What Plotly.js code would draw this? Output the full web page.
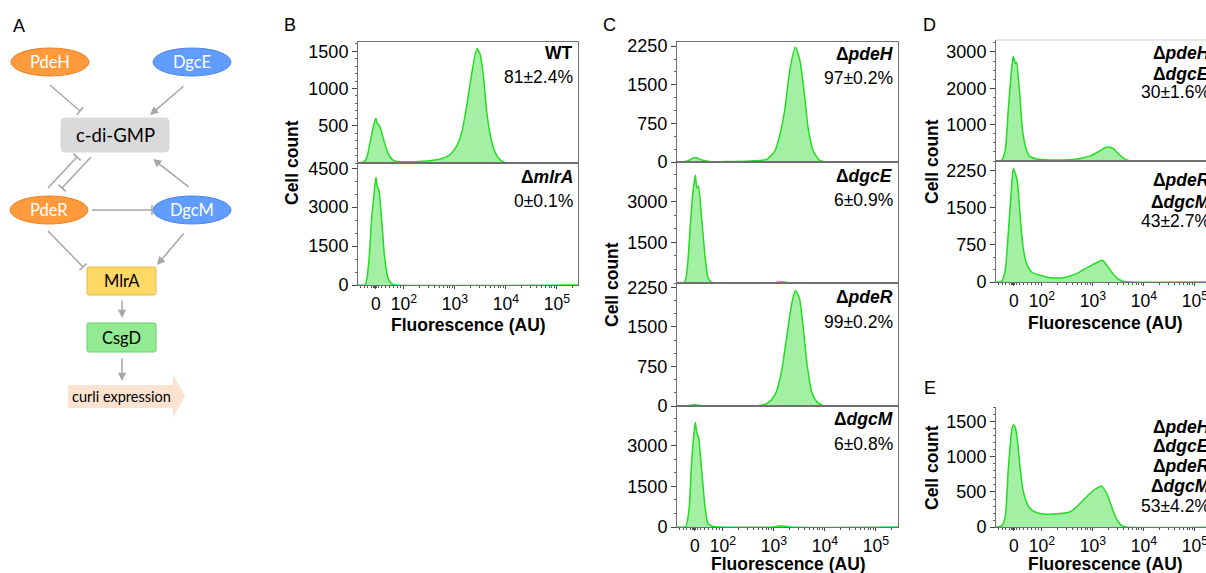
<!DOCTYPE html>
<html><head><meta charset="utf-8">
<script src="https://cdn.plot.ly/plotly-3.0.1.min.js"></script>
<style>html,body{margin:0;padding:0;background:#fff;}#chart{width:1206px;height:573px;}</style>
</head><body><div id="chart"></div>
<script>
// ---------- DATA (x = position on the biexponential fluorescence scale, in decades; counts = cells) ----------
const decadeTickPos = [1.45, 2, 3, 4, 5];
const decadeTickText = ['0', '10<sup>2</sup>', '10<sup>3</sup>', '10<sup>4</sup>', '10<sup>5</sup>'];

const wtPos   = [1.10,1.20,1.27,1.33,1.38,1.42,1.45,1.48,1.52,1.57,1.62,1.68,1.76,1.86,2.00,2.20,2.51,2.71,2.90,3.03,3.13,3.23,3.33,3.43,3.49,3.56,3.62,3.70,3.78,3.88,4.01,4.50,5.45];
const wtCount = [0,10,67,250,420,540,600,530,500,400,270,150,53,22,18,18,31,53,111,222,400,756,1200,1535,1470,1157,712,356,156,45,0,0,0];

const mlrAPos   = [1.10,1.24,1.31,1.37,1.41,1.45,1.48,1.51,1.56,1.62,1.69,1.76,1.85,5.45];
const mlrACount = [0,10,836,2636,3400,4150,3790,3660,2636,1093,257,40,0,0];

const pdeHPos   = [1.10,1.29,1.45,1.61,1.75,2.00,2.53,2.86,3.02,3.12,3.22,3.31,3.42,3.51,3.59,3.67,3.77,3.90,4.03,4.50,5.45];
const pdeHCount = [0,13,85,32,6,8,20,52,215,540,1060,1775,2230,1970,1385,670,215,32,0,0,0];

const dgcEPos   = [1.10,1.25,1.31,1.36,1.41,1.46,1.49,1.52,1.58,1.65,1.71,1.78,1.90,3.00,3.15,3.30,5.45];
const dgcECount = [0,25,740,2100,3330,3990,3520,3580,2470,988,185,25,0,0,50,0,0];

const pdeRPos   = [1.10,1.30,1.45,1.60,2.00,2.79,2.95,3.05,3.15,3.25,3.35,3.42,3.50,3.58,3.65,3.74,3.84,3.97,4.30,5.45];
const pdeRCount = [0,5,25,5,5,19,115,275,660,1300,1940,2185,2040,1430,790,275,83,6,0,0];

const dgcMPos   = [1.10,1.27,1.34,1.38,1.43,1.46,1.49,1.52,1.58,1.65,1.71,1.81,1.95,3.00,3.15,3.30,5.45];
const dgcMCount = [0,20,726,2180,3390,3850,3450,3330,2180,726,120,24,0,0,48,0,0];

const pdeHdgcEPos   = [1.10,1.21,1.28,1.34,1.41,1.44,1.48,1.50,1.56,1.62,1.69,1.76,1.90,2.16,2.55,2.75,2.95,3.10,3.22,3.31,3.40,3.50,3.60,3.70,3.85,5.45];
const pdeHdgcECount = [0,18,293,1394,2586,2880,2680,2720,1944,844,340,128,55,28,37,70,140,250,350,385,340,200,80,15,0,0];

const pdeRdgcMPos   = [1.10,1.21,1.28,1.34,1.41,1.44,1.48,1.52,1.57,1.63,1.70,1.80,1.96,2.16,2.42,2.68,2.81,2.97,3.10,3.19,3.27,3.37,3.46,3.59,3.75,5.45];
const pdeRdgcMCount = [0,14,237,980,1994,2300,2197,2028,1386,710,372,203,135,88,88,169,250,338,405,440,338,203,88,14,0,0];

const quadPos   = [1.10,1.21,1.28,1.34,1.41,1.44,1.48,1.52,1.57,1.63,1.71,1.80,1.96,2.16,2.35,2.55,2.68,2.81,2.94,3.07,3.17,3.27,3.37,3.46,3.56,3.66,5.45];
const quadCount = [0,15,144,814,1390,1460,1413,1245,862,527,335,240,192,182,192,215,287,383,479,551,584,479,287,120,24,0,0];

const strainLabels = [
  ['<b>WT</b>'],
  ['<b>Δ<i>mlrA</i></b>'],
  ['<b>Δ<i>pdeH</i></b>'],
  ['<b>Δ<i>dgcE</i></b>'],
  ['<b>Δ<i>pdeR</i></b>'],
  ['<b>Δ<i>dgcM</i></b>'],
  ['<b>Δ<i>pdeH</i></b>','<b>Δ<i>dgcE</i></b>'],
  ['<b>Δ<i>pdeR</i></b>','<b>Δ<i>dgcM</i></b>'],
  ['<b>Δ<i>pdeH</i></b>','<b>Δ<i>dgcE</i></b>','<b>Δ<i>pdeR</i></b>','<b>Δ<i>dgcM</i></b>']
];
const percentLabels = ['81±2.4%','0±0.1%','97±0.2%','6±0.9%','99±0.2%','6±0.8%','30±1.6%','43±2.7%','53±4.2%'];

const yTickSets = [[500,1000,1500],[0,1500,3000,4500],[0,750,1500,2250],[1500,3000],[0,750,1500,2250],[0,1500,3000],[1000,2000,3000],[0,750,1500,2250],[0,500,1000,1500]];

// ---------- LAYOUT ----------
const W = 1206, H = 573;
const X = p => p / W, Y = p => 1 - p / H;
const PXPERDEC = 51;
const TXT = 'Liberation Sans, Arial, sans-serif';
const LINE = '#22DD22', FILL = '#A3EFA3';
const YTICKSIZE = 18, XTICKSIZE = 17.5, LABSIZE = 17.5;

const series = [
  [wtPos, wtCount], [mlrAPos, mlrACount], [pdeHPos, pdeHCount], [dgcEPos, dgcECount],
  [pdeRPos, pdeRCount], [dgcMPos, dgcMCount], [pdeHdgcEPos, pdeHdgcECount],
  [pdeRdgcMPos, pdeRdgcMCount], [quadPos, quadCount]
];

// panel geometry (pixels)
const panelGeom = [
  {x:[358,578], y:[42,163], yr:[0,1625], minor:100, bottom:false, top:true,  right:true, txtX:575, txtY:[53,77]},
  {x:[358,578], y:[163,285],yr:[0,4700], minor:500, bottom:true,  top:true,  right:true, txtX:575, txtY:[177,201]},
  {x:[677,898], y:[42,162], yr:[0,2330], minor:250, bottom:false, top:true,  right:true, txtX:895, txtY:[54,78]},
  {x:[677,898], y:[162,283],yr:[0,4480], minor:500, bottom:false, top:true,  right:true, txtX:895, txtY:[176,200]},
  {x:[677,898], y:[283,406],yr:[0,2330], minor:250, bottom:false, top:true,  right:true, txtX:895, txtY:[297,322]},
  {x:[677,898], y:[406,527],yr:[0,4450], minor:500, bottom:true,  top:true,  right:true, txtX:895, txtY:[419,444]},
  {x:[996,1206],y:[40,161], yr:[0,3330], minor:250, bottom:false, top:false, right:false, txtX:1212, txtY:[53,74,92]},
  {x:[996,1206],y:[161,282],yr:[0,2450], minor:250, bottom:true,  top:true,  right:false, txtX:1212, txtY:[180,202,221]},
  {x:[996,1206],y:[407,527],yr:[0,1714], minor:100, bottom:true,  top:false, right:false, txtX:1212, txtY:[427,446,466,486,506]}
];

const minorX = [];
[1.15,1.22,1.29,1.36,1.40,1.43,1.47,1.50,1.56,1.64,1.72,1.80,1.88,1.94].forEach(v=>minorX.push(v));
for (let d=2; d<=5; d++) for (let k=2; k<=9; k++) { const v = d + Math.log10(k); if (v < 5.4) minorX.push(v); }

const traces = [];
const layout = {
  width: W, height: H, margin:{l:0,r:0,t:0,b:0}, paper_bgcolor:'#fff', plot_bgcolor:'rgba(0,0,0,0)',
  showlegend:false, annotations:[], shapes:[], font:{family:TXT, color:'#000'}
};
function note(px, py, text, opts) {
  layout.annotations.push(Object.assign({xref:'paper', yref:'paper', x:X(px), y:Y(py), text:text, showarrow:false,
    xanchor:'center', yanchor:'middle', font:{family:TXT, size:LABSIZE, color:'#000'}}, opts || {}));
}

panelGeom.forEach((p, i) => {
  const n = i === 0 ? '' : (i+1);
  traces.push({
    type:'scatter', mode:'lines', x: series[i][0], y: series[i][1],
    xaxis:'x'+n, yaxis:'y'+n, fill:'tozeroy', fillcolor:FILL,
    line:{color:LINE, width:1.5, shape:'spline', smoothing:0.6}, hoverinfo:'skip', cliponaxis:true
  });
  const range0 = 1.10;
  layout['xaxis'+n] = {
    domain:[X(p.x[0]), X(p.x[1])], range:[range0, range0 + (p.x[1]-p.x[0])/PXPERDEC],
    anchor:'y'+n, showline:true, linecolor:'#707070', linewidth:1, mirror: p.top ? true : false,
    showgrid:false, zeroline:false, fixedrange:true, ticklabeloverflow:'allow',
    tickmode:'array', tickvals: p.bottom ? decadeTickPos : [], ticktext: p.bottom ? decadeTickText : [],
    ticks: p.bottom ? 'outside' : '', ticklen:3, tickwidth:1, tickcolor:'#444',
    showticklabels: p.bottom, tickfont:{family:TXT, size:XTICKSIZE, color:'#000'},
    minor: p.bottom ? {tickmode:'array', tickvals:minorX, ticks:'outside', ticklen:2, tickcolor:'#555', tickwidth:1} : {ticks:''}
  };
  layout['yaxis'+n] = {
    domain:[Y(p.y[1]), Y(p.y[0])], range:p.yr, anchor:'x'+n,
    showline:true, linecolor:'#707070', linewidth:1, mirror: p.right ? true : false,
    showgrid:false, zeroline:false, fixedrange:true,
    tickmode:'array', tickvals:yTickSets[i], ticks:'outside', ticklen:5, tickwidth:1, tickcolor:'#444',
    tickfont:{family:TXT, size:YTICKSIZE, color:'#000'},
    minor:{dtick:p.minor, tick0:0, ticks:'outside', ticklen:2, tickcolor:'#666', tickwidth:1}
  };
  const lines = strainLabels[i].concat([percentLabels[i]]);
  lines.forEach((t, j) => note(p.txtX, p.txtY[j], t, {xanchor:'right'}));
});
// light top border of panel D
layout.shapes.push({type:'line', xref:'paper', yref:'paper', x0:X(996), x1:X(1206), y0:Y(40), y1:Y(40), line:{color:'#cfcfcf', width:1}});

// axis titles
const cellCountPos = [[292,163],[612,285],[932,162],[932,468]];
cellCountPos.forEach(c => note(c[0], c[1], '<b>Cell count</b>', {textangle:-90}));
const fluorPos = [[468,325],[788,564],[1105,323],[1105,564]];
fluorPos.forEach(c => note(c[0], c[1], '<b>Fluorescence (AU)</b>'));

// panel letters
[['A',19,26],['B',290,25],['C',609,25],['D',929,25],['E',930,388]].forEach(l => note(l[1], l[2], l[0], {font:{family:TXT, size:18, color:'#000'}}));

// ---------- Panel A diagram ----------
const GRAY = '#A6A6A6';
const DFONT = 'Lato, Open Sans, sans-serif';
function ellipse(cx, cy, fill, border, label) {
  layout.shapes.push({type:'circle', xref:'paper', yref:'paper', x0:X(cx-39), x1:X(cx+39), y0:Y(cy+14), y1:Y(cy-14),
    fillcolor:fill, line:{color:border, width:1}});
  note(cx, cy, label, {font:{family:DFONT, size:16.5, color:'#fff'}});
}
function roundRect(x0, y0, x1, y1, r, fill, border, label, fs) {
  const P = (x,y) => X(x)+','+Y(y);
  const path = 'M'+P(x0+r,y0)+' L'+P(x1-r,y0)+' Q'+P(x1,y0)+' '+P(x1,y0+r)+' L'+P(x1,y1-r)+' Q'+P(x1,y1)+' '+P(x1-r,y1)+
    ' L'+P(x0+r,y1)+' Q'+P(x0,y1)+' '+P(x0,y1-r)+' L'+P(x0,y0+r)+' Q'+P(x0,y0)+' '+P(x0+r,y0)+' Z';
  layout.shapes.push({type:'path', xref:'paper', yref:'paper', path:path, fillcolor:fill, line:{color:border, width:1}});
  note((x0+x1)/2, (y0+y1)/2, label, {font:{family:DFONT, size:fs, color:'#000'}});
}
function inhibit(x0, y0, x1, y1) {
  layout.shapes.push({type:'line', xref:'paper', yref:'paper', x0:X(x0), y0:Y(y0), x1:X(x1), y1:Y(y1), line:{color:GRAY, width:1.5}});
  const dx = x1-x0, dy = y1-y0, L = Math.hypot(dx, dy), nx = -dy/L*5, ny = dx/L*5;
  layout.shapes.push({type:'line', xref:'paper', yref:'paper', x0:X(x1+nx), y0:Y(y1+ny), x1:X(x1-nx), y1:Y(y1-ny), line:{color:GRAY, width:1.5}});
}
function activate(x0, y0, x1, y1) {
  layout.annotations.push({xref:'paper', yref:'paper', x:X(x1), y:Y(y1), ax:x0-x1, ay:y0-y1, text:'', showarrow:true,
    arrowhead:2, arrowsize:1.1, arrowwidth:1.5, arrowcolor:GRAY, standoff:0, startstandoff:0});
}
ellipse(50, 62, '#FF9A3D', '#F08020', 'PdeH');
ellipse(192, 62, '#619CFF', '#4A86EE', 'DgcE');
ellipse(49, 210, '#FF9A3D', '#F08020', 'PdeR');
ellipse(192, 210, '#619CFF', '#4A86EE', 'DgcM');
roundRect(61, 118, 169, 152, 4, '#D9D9D9', '#D9D9D9', 'c-di-GMP', 18.5);
roundRect(87, 267, 156, 295, 2, '#FFD966', '#E6B84A', 'MlrA', 16.5);
roundRect(87, 323, 156, 352, 2, '#93EA93', '#66D466', 'CsgD', 16.5);
(function(){
  const P = (x,y) => X(x)+','+Y(y);
  layout.shapes.push({type:'path', xref:'paper', yref:'paper', line:{width:0},
    path:'M'+P(68,385)+' L'+P(173,385)+' L'+P(173,374)+' L'+P(185,396)+' L'+P(173,418)+' L'+P(173,408)+' L'+P(68,408)+' Z',
    fillcolor:'#FBE3D0'});
  note(121, 396, 'curli expression', {font:{family:DFONT, size:14.5, color:'#000'}});
})();
inhibit(50, 85, 80, 111);
activate(185, 85, 150, 115);
inhibit(48, 188, 77, 157);
inhibit(91, 157, 62, 188);
activate(190, 188, 153, 159);
inhibit(92, 210, 152, 210);
inhibit(48, 231, 83, 267);
activate(185, 232, 157, 265);
activate(122, 299, 122, 318);
activate(122, 357, 122, 381);

Plotly.newPlot('chart', traces, layout, {staticPlot:true, displayModeBar:false});
</script>
</body></html>
